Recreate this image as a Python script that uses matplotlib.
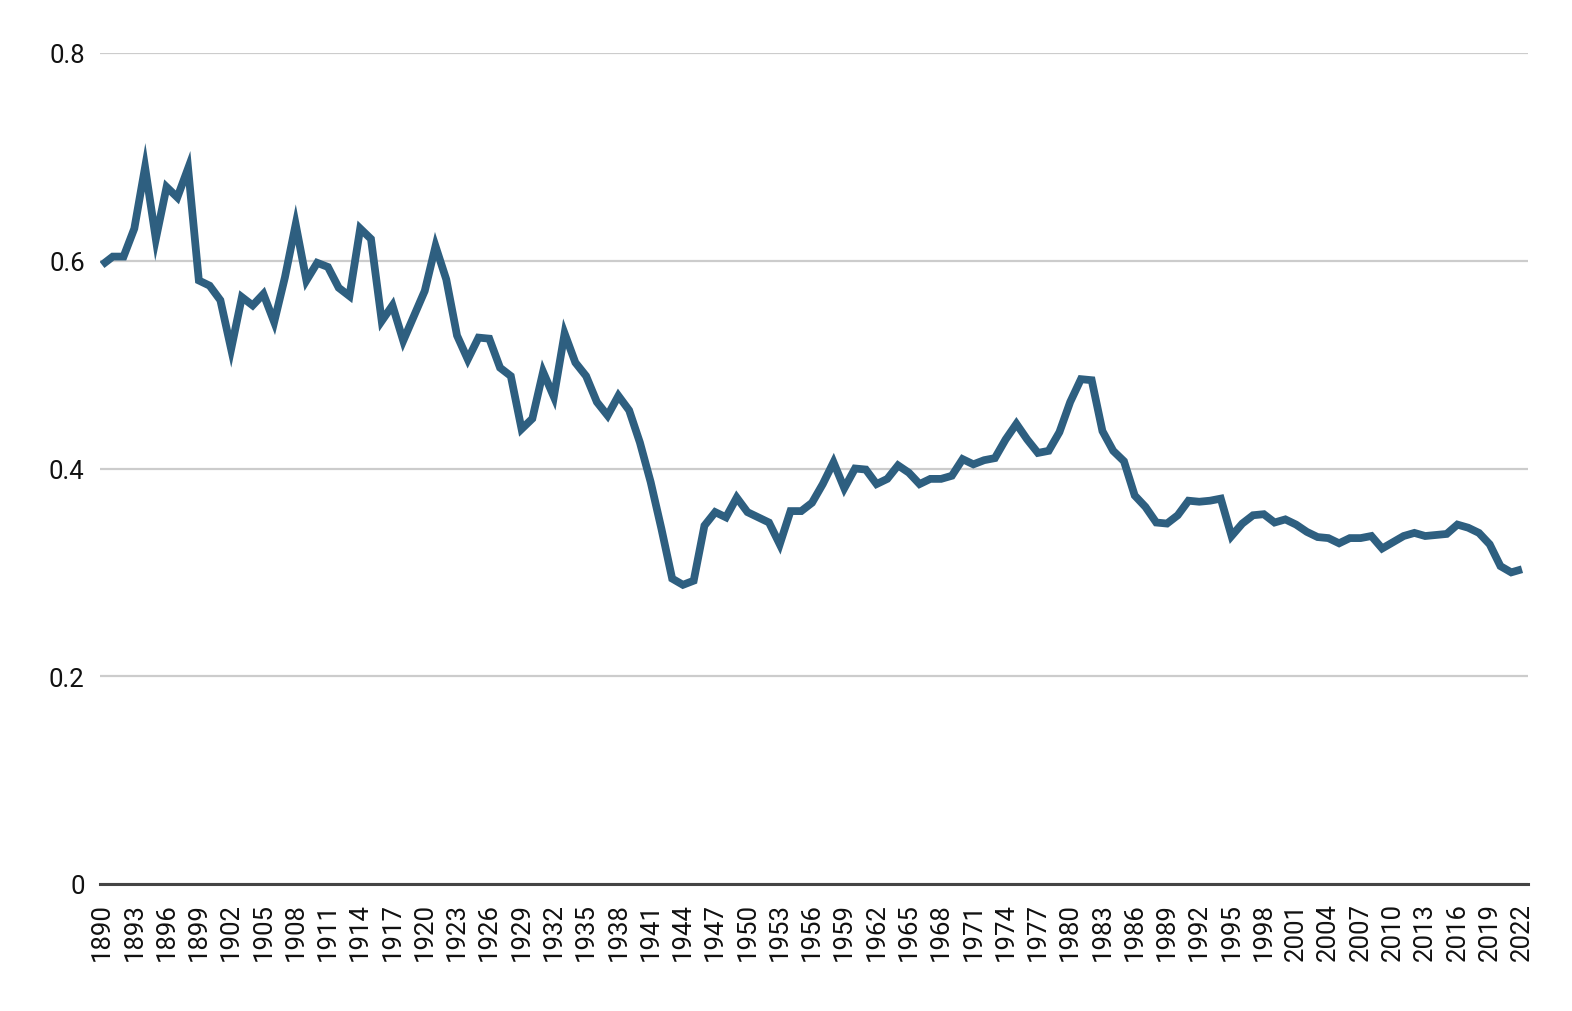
import matplotlib
matplotlib.use("Agg")
import matplotlib.pyplot as plt

years = list(range(1890, 2023))

values = [
    0.596, 0.604, 0.604, 0.631, 0.690, 0.621, 0.671, 0.661, 0.689, 0.581,  # 1890s
    0.576, 0.562, 0.515, 0.565, 0.557, 0.568, 0.541, 0.584, 0.635, 0.581,  # 1900s
    0.598, 0.594, 0.574, 0.566, 0.631, 0.621, 0.542, 0.557, 0.523, 0.547,  # 1910s
    0.571, 0.614, 0.582, 0.528, 0.505, 0.526, 0.525, 0.497, 0.489, 0.438,  # 1920s
    0.448, 0.493, 0.469, 0.530, 0.502, 0.489, 0.464, 0.451, 0.470, 0.456,  # 1930s
    0.425, 0.387, 0.342, 0.294, 0.288, 0.292, 0.345, 0.358, 0.353, 0.372,  # 1940s
    0.358, 0.353, 0.348, 0.327, 0.359, 0.359, 0.367, 0.385, 0.406, 0.381,  # 1950s
    0.400, 0.399, 0.385, 0.390, 0.403, 0.396, 0.385, 0.390, 0.390, 0.393,  # 1960s
    0.409, 0.404, 0.408, 0.410, 0.428, 0.443, 0.428, 0.415, 0.417, 0.435,  # 1970s
    0.464, 0.486, 0.485, 0.436, 0.417, 0.407, 0.374, 0.363, 0.348, 0.347,  # 1980s
    0.355, 0.369, 0.368, 0.369, 0.371, 0.335, 0.347, 0.355, 0.356, 0.348,  # 1990s
    0.351, 0.346, 0.339, 0.334, 0.333, 0.328, 0.333, 0.333, 0.335, 0.323,  # 2000s
    0.329, 0.335, 0.338, 0.335, 0.336, 0.337, 0.346, 0.343, 0.338, 0.327,  # 2010s
    0.306, 0.300, 0.303,                                                   # 2020s
]

tick_years = list(range(1890, 2020, 3)) + [2022]
y_ticks = [0, 0.2, 0.4, 0.6, 0.8]
y_labels = ["0", "0.2", "0.4", "0.6", "0.8"]

plt.rcParams["font.family"] = ["Roboto", "DejaVu Sans"]

fig = plt.figure(figsize=(15.72, 10.12), dpi=100)
ax = fig.add_axes([100 / 1572, 1 - 885 / 1012, 1428 / 1572, 831 / 1012])

ax.plot(years, values, color="#2E5F80", linewidth=5.6,
        solid_joinstyle="miter", solid_capstyle="butt", zorder=3)

ax.set_xlim(1889.81, 2022.56)
ax.set_ylim(0, 0.8)

ax.set_yticks(y_ticks)
ax.set_yticklabels(y_labels)
ax.set_xticks(tick_years)
ax.set_xticklabels([str(y) for y in tick_years], rotation=90, va="top", ha="center")

ax.tick_params(axis="y", length=0, pad=11, labelsize=18.5, labelcolor="#111111")
ax.tick_params(axis="x", length=0, pad=13, labelsize=18.5, labelcolor="#111111")

ax.grid(axis="y", color="#cccccc", linewidth=1.6, zorder=1)
ax.grid(axis="x", visible=False)

for side in ["top", "right", "left"]:
    ax.spines[side].set_visible(False)
ax.spines["bottom"].set_color("#444444")
ax.spines["bottom"].set_linewidth(2.2)
ax.spines["bottom"].set_zorder(4)

fig.savefig("out.png", dpi=100)
